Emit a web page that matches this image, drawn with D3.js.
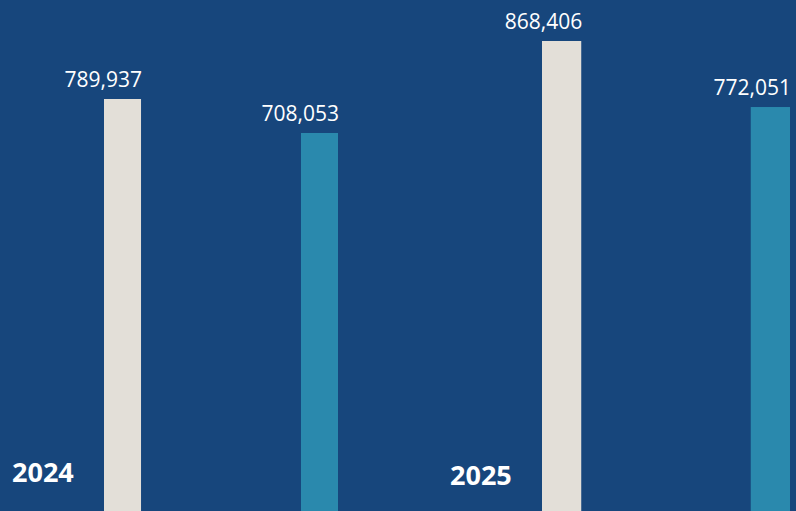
<!DOCTYPE html>
<html>
<head>
<meta charset="utf-8">
<script src="https://cdn.jsdelivr.net/npm/d3@7"></script>
<style>
  html, body { margin: 0; padding: 0; background: #17467c; overflow: hidden; }
  svg { display: block; }
</style>
</head>
<body>
<svg id="chart" width="796" height="511"></svg>
<script>
// ---- data ----
const years = ["2024", "2025"];
const series = ["first", "second"];
const values2024 = [789937, 708053];
const values2025 = [868406, 772051];
const colors = ["#e3dfd8", "#2a89ad"];

const valuesByYear = { "2024": values2024, "2025": values2025 };

// ---- layout ----
const W = 796, H = 511;
const svg = d3.select("#chart");
svg.append("rect").attr("width", W).attr("height", H).attr("fill", "#17467c");

const panelW = 438;
const x0 = d3.scaleBand().domain(years).range([0, panelW * years.length]).padding(0);

// per-panel layout (independent panels)
const innerW = { "2024": 234, "2025": 248 };
const panelZero = { "2024": 427, "2025": 636 };
const panelTop = { "2024": 99, "2025": 41 };
const labelY = { "2024": 482, "2025": 485 };

years.forEach(yr => {
  const vals = valuesByYear[yr];
  const x1 = d3.scaleBand().domain(series).range([104, 104 + innerW[yr]]).paddingInner(0.812).paddingOuter(0);
  const y = d3.scaleLinear().domain([0, d3.max(vals)]).range([panelZero[yr], panelTop[yr]]);
  const g = svg.append("g").attr("transform", `translate(${x0(yr)},0)`);

  const rows = series.map((s, i) => ({ s, v: vals[i], c: colors[i] }));

  g.selectAll("rect.bar").data(rows).enter().append("rect")
    .attr("class", "bar")
    .attr("x", d => x1(d.s))
    .attr("width", x1.bandwidth())
    .attr("y", d => y(d.v))
    .attr("height", d => H - y(d.v))
    .attr("fill", d => d.c);

  g.selectAll("text.val").data(rows).enter().append("text")
    .attr("class", "val")
    .attr("x", d => x1(d.s) + x1.bandwidth() + 1)
    .attr("y", d => y(d.v) - 12)
    .attr("text-anchor", "end")
    .attr("fill", "#ffffff")
    .attr("font-family", "'Open Sans', sans-serif")
    .attr("font-size", 21)
    .text(d => d3.format(",")(d.v));

  g.append("text")
    .attr("x", 12)
    .attr("y", labelY[yr])
    .attr("fill", "#ffffff")
    .attr("font-family", "'Open Sans', sans-serif")
    .attr("font-weight", "bold")
    .attr("font-size", 27)
    .text(yr);
});
</script>
</body>
</html>
